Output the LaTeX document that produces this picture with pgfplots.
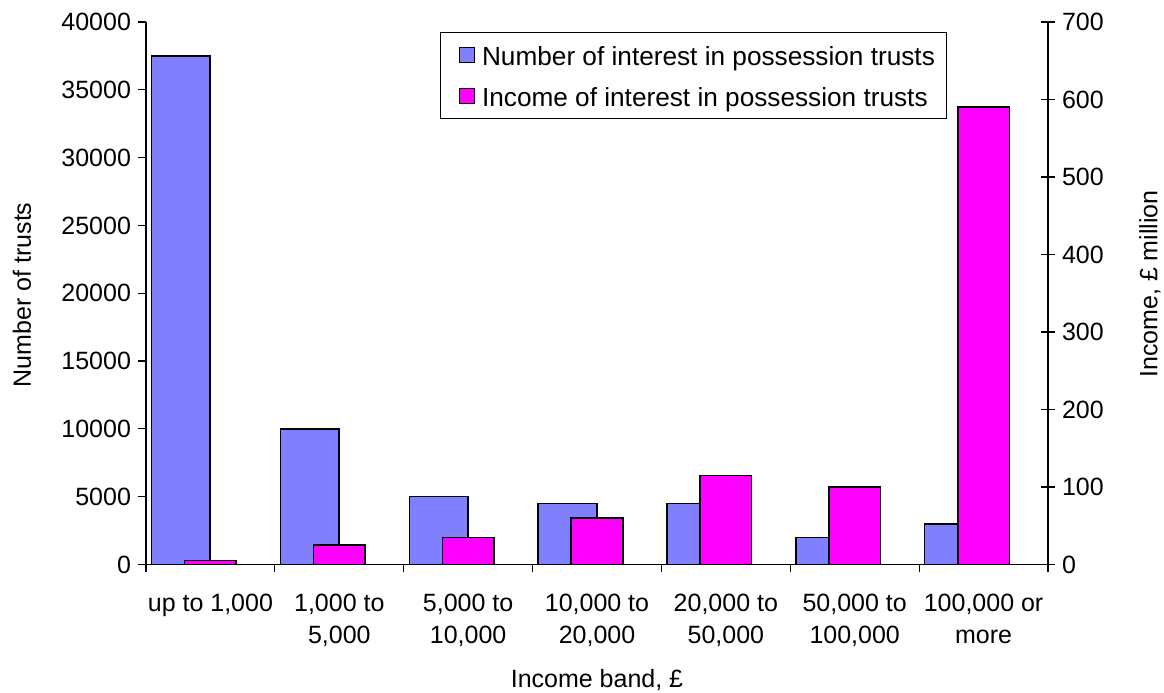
\documentclass[border=0pt]{standalone}
\usepackage{pgfplots}
\pgfplotsset{compat=1.18}
\usepackage{fontspec}
\setmainfont{Liberation Sans}
\definecolor{barblue}{HTML}{8080FF}
\definecolor{barmag}{HTML}{FF00FF}
\begin{document}
\begin{tikzpicture}
\pgfplotsset{
  common/.style={
    scale only axis, width=451pt, height=271.25pt,
    xmin=-0.5, xmax=6.5, ymin=0,
    font=\fontsize{12.5}{15}\selectfont,
    /pgf/number format/assume math mode=true,
    /pgf/number format/1000 sep={},
    scaled y ticks=false,
    axis line style={-, line width=0.6pt, black},
    every tick/.style={line width=0.6pt, black},
  }
}
\begin{axis}[common, name=ax,
  ymax=40000,
  axis x line*=bottom, axis y line*=left,
  ytick={0,5000,...,40000},
  tick align=outside,
  major tick length=4pt,
  xtick={0,...,6},
  xticklabels={up to 1{,}000, {1{,}000 to\\5{,}000}, {5{,}000 to\\10{,}000}, {10{,}000 to\\20{,}000}, {20{,}000 to\\50{,}000}, {50{,}000 to\\100{,}000}, {100{,}000 or\\more}},
  major x tick style={draw=none},
  minor xtick={-0.5,0.5,...,6.5},
  minor tick length=4pt,
  xticklabel style={align=center, anchor=north, yshift=-7pt, font=\fontsize{12.5}{16}\selectfont},
  ylabel={Number of trusts},
  ylabel style={at={(axis description cs:-0.1375,0.497)}, anchor=center, rotate=0},
  xlabel={Income band, £},
  xlabel style={at={(axis description cs:0.5,-0.213)}, anchor=center},
]
\addplot[ybar, bar width=0.455, bar shift=-0.229, fill=barblue, draw=black, line width=0.75pt]
  coordinates {(0,37500) (1,10000) (2,5000) (3,4500) (4,4500) (5,2000) (6,3000)};
\end{axis}
\begin{axis}[common,
  ymax=700,
  axis x line=none, axis y line*=right,
  ytick={0,100,...,700},
  tick align=center,
  major tick length=7pt,
  ylabel={Income, £ million},
  ylabel style={at={(axis description cs:1.113,0.517)}, anchor=center, rotate=0},
  legend style={at={(axis description cs:0.326,0.981)}, anchor=north west, draw=black, line width=0.5pt,
    inner xsep=4pt, inner ysep=3.5pt, row sep=5pt, font=\fontsize{13.1}{15.5}\selectfont,
    nodes={text height=11pt, text depth=0.5pt}},
  legend cell align=left,
  legend image code/.code={\path (0pt,0pt) (14pt,0pt); \draw[#1, draw=black, line width=0.6pt] (5pt,-3.75pt) rectangle (12.5pt,3.75pt);},
]
\addlegendimage{fill=barblue}
\addlegendentry{Number of interest in possession trusts}
\addplot[ybar, bar width=0.40, bar shift=0, fill=barmag, draw=black, line width=0.75pt]
  coordinates {(0,5) (1,25) (2,35) (3,60) (4,115) (5,100) (6,590)};
\addlegendentry{Income of interest in possession trusts}
\end{axis}
\pgfresetboundingbox
\path ([xshift=-73pt, yshift=-64.25pt]ax.south west) rectangle ([xshift=58pt, yshift=11pt]ax.north east);
\end{tikzpicture}
\end{document}
